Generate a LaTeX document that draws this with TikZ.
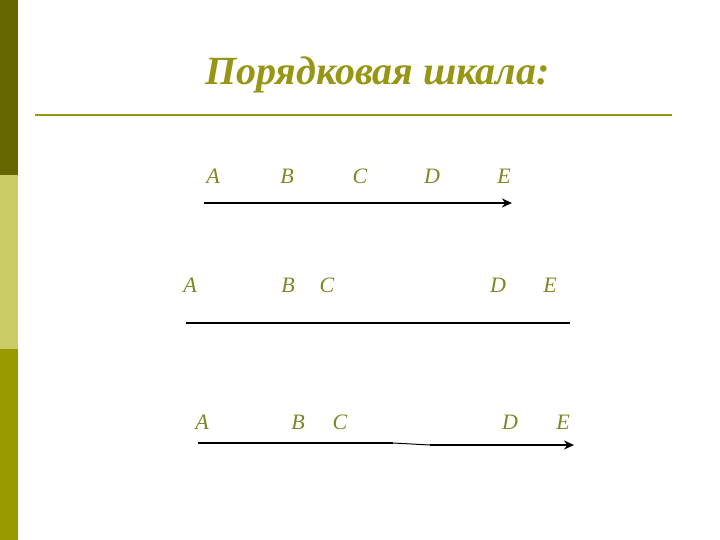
\documentclass[tikz,border=0pt]{standalone}
\usepackage{fontspec}
\setmainfont{Liberation Serif}
\usetikzlibrary{arrows.meta}
\definecolor{bardark}{RGB}{102,102,0}
\definecolor{barlight}{RGB}{204,204,102}
\definecolor{barmid}{RGB}{153,153,0}
\definecolor{titlecol}{RGB}{150,150,20}
\definecolor{letcol}{RGB}{125,135,35}
\tikzset{
  lbl/.style={font=\itshape\fontsize{22}{22}\selectfont, text=letcol, inner sep=0pt, anchor=center},
  scale line/.style={line width=2.6pt, black},
  tip/.style={-{Stealth[length=10pt,width=9pt]}},
}
\begin{document}
\begin{tikzpicture}[x=1pt,y=-1pt]
\useasboundingbox (0,0) rectangle (720,540);
\fill[bardark] (0,0) rectangle (18,175);
\fill[barlight] (0,175) rectangle (18,349);
\fill[barmid] (0,349) rectangle (18,540);
\node[font=\bfseries\itshape\fontsize{40}{40}\selectfont, text=titlecol, inner sep=0pt, anchor=base west] (title) at (205,85) {Порядковая шкала:};
\coordinate (rl) at (35,115);
\coordinate (rr) at (672,115);
\draw[titlecol, line width=2pt] (rl) -- (rr);
% row 1
\node[lbl] (a1) at (213,176) {A};
\node[lbl] (b1) at (287,176) {B};
\node[lbl] (c1) at (360,176) {C};
\node[lbl] (d1) at (432,176) {D};
\node[lbl] (e1) at (504,176) {E};
\coordinate (s1) at (204,203);
\coordinate (t1) at (512,203);
\draw[scale line, tip] (s1) -- (t1);
% row 2
\node[lbl] (a2) at (190,285) {A};
\node[lbl] (b2) at (288,285) {B};
\node[lbl] (c2) at (327,285) {C};
\node[lbl] (d2) at (498,285) {D};
\node[lbl] (e2) at (550,285) {E};
\coordinate (s2) at (186,323);
\coordinate (t2) at (570,323);
\draw[scale line] (s2) -- (t2);
% row 3
\node[lbl] (a3) at (202,422) {A};
\node[lbl] (b3) at (298,422) {B};
\node[lbl] (c3) at (340,422) {C};
\node[lbl] (d3) at (510,422) {D};
\node[lbl] (e3) at (563,422) {E};
\coordinate (s3) at (198,443);
\coordinate (m3) at (393,443);
\coordinate (n3) at (430,445);
\coordinate (t3) at (574,445);
\draw[scale line] (s3) -- (m3);
\draw[black, line width=1pt] (m3) -- (n3);
\draw[scale line, tip] (n3) -- (t3);
\end{tikzpicture}
\end{document}
